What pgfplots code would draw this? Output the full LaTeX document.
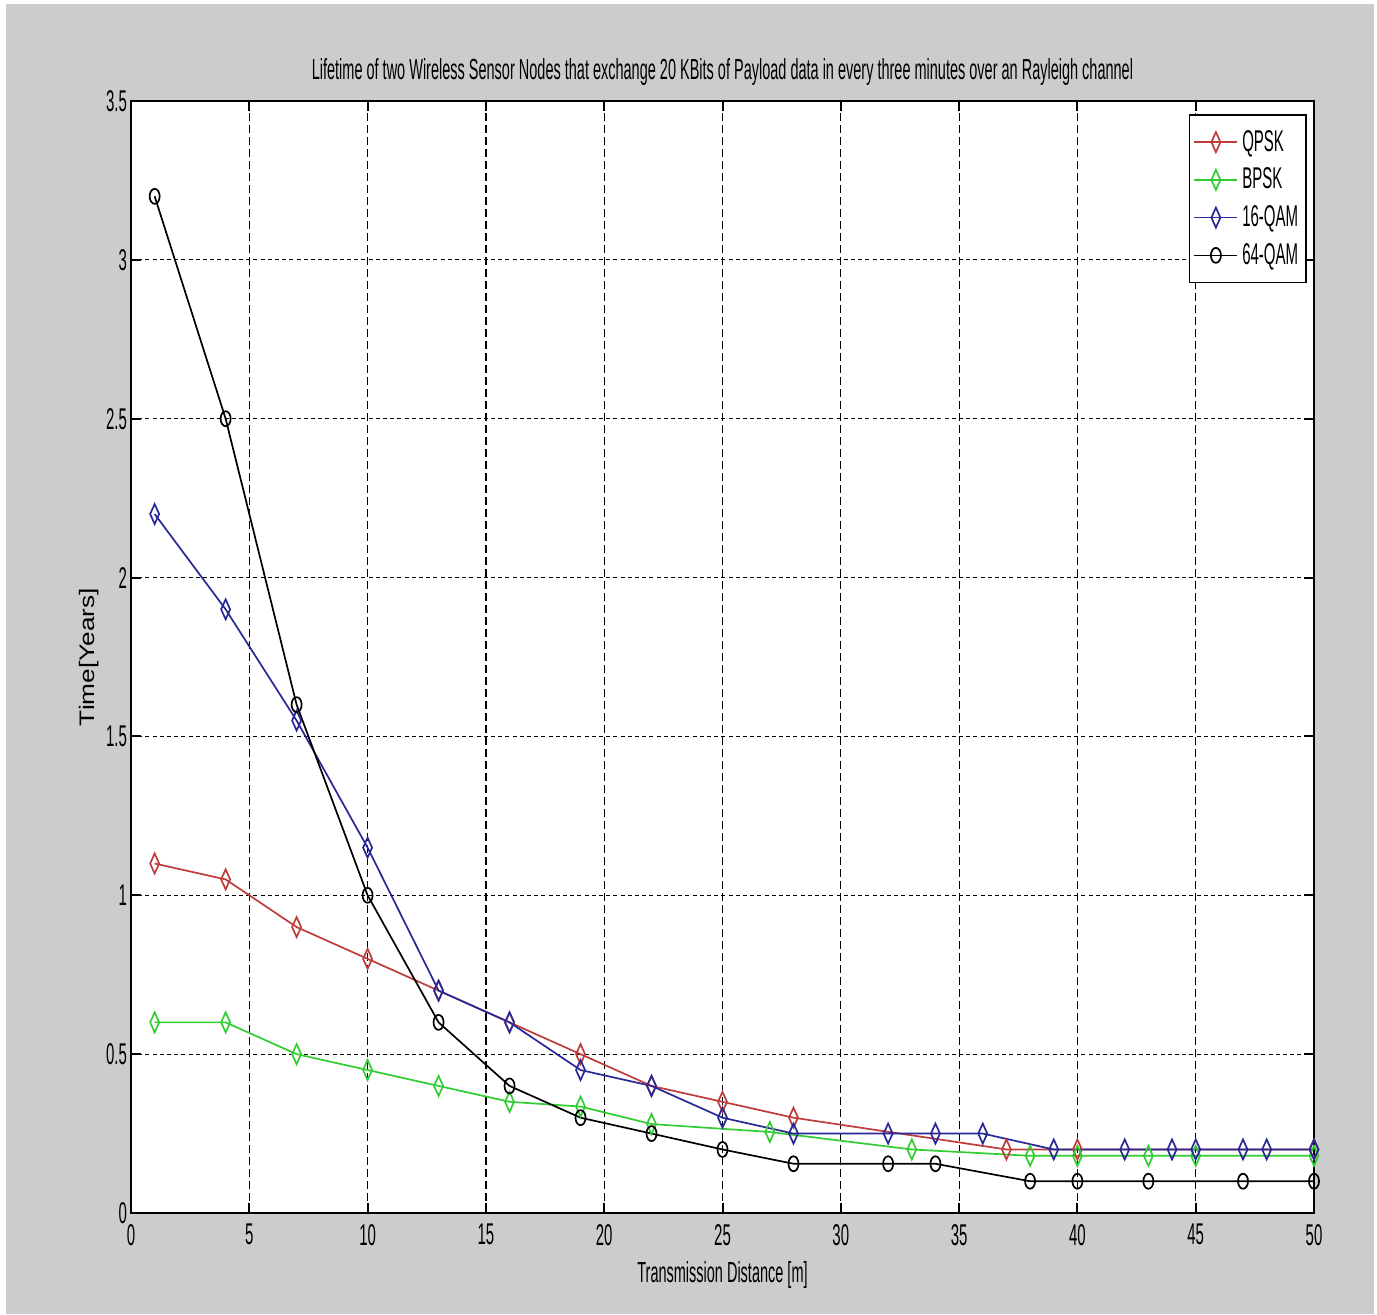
\documentclass[border=0pt]{standalone}
\usepackage{fontspec}
\setmainfont{Liberation Sans}
\newfontfamily\cfont[FakeStretch=0.5]{Liberation Sans}
\newfontfamily\yfont[FakeStretch=1.25]{Liberation Sans}
\usepackage{pgfplots}
\pgfplotsset{compat=1.18}
\definecolor{figbg}{RGB}{204,204,204}
\definecolor{qpsk}{RGB}{190,60,60}
\definecolor{bpsk}{RGB}{50,205,50}
\definecolor{qamA}{RGB}{40,40,150}
\newcommand{\cf}{\cfont\fontsize{14.5}{16}\selectfont}
\newcommand{\tf}{\cfont\fontsize{15}{17}\selectfont}
\begin{document}
\begin{tikzpicture}
\fill[white] (-65.5pt,-50.5pt) rectangle (623pt,606.5pt);
\fill[figbg] (-62.5pt,-50.5pt) rectangle (621.5pt,604.5pt);
\begin{axis}[
  at={(0pt,0pt)}, anchor=south west,
  scale only axis, width=591.5pt, height=556pt,
  xmin=0, xmax=50, ymin=0, ymax=3.5,
  xtick={0,5,...,50}, xticklabels={0,5,10,15,20,25,30,35,40,45,50},
  ytick={0,0.5,1,1.5,2,2.5,3,3.5}, yticklabels={0,0.5,1,1.5,2,2.5,3,3.5},
  tick label style={font=\tf},
  xticklabel style={yshift=-2pt},
  yticklabel style={xshift=1.5pt},
  tick align=inside, major tick length=5pt,
  every tick/.style={black, line width=1pt},
  axis line style={black, line width=1pt},
  axis background/.style={fill=white},
  grid=major,
  x grid style={black, line width=0.6pt, dash pattern=on 4pt off 2pt},
  y grid style={black, line width=0.6pt, dash pattern=on 2pt off 1.6pt},
  every axis title shift=0pt,
  title={Lifetime of two Wireless Sensor Nodes that exchange 20 KBits of Payload data in every three minutes over an Rayleigh channel},
  title style={at={(axis description cs:0.5,1.026)}, anchor=center, font=\cf},
  xlabel={Transmission Distance [m]},
  xlabel style={at={(axis description cs:0.5,-0.056)}, anchor=center, font=\cf},
  ylabel={Time[Years]},
  ylabel style={at={(axis description cs:-0.0355,0.5)}, anchor=center, font=\yfont\fontsize{10.5}{12}\selectfont},
  clip=false,
  legend image code/.code={\draw[mark repeat=2,mark phase=2,#1] plot coordinates {(0pt,0pt)(10.75pt,0pt)(21.5pt,0pt)};},
  legend style={at={(0.994,0.988)}, anchor=north east, draw=black, line width=0.8pt, fill=white, font=\tf, row sep=2.9pt, inner xsep=2pt, inner ysep=5.5pt},
  legend cell align=left,
]
\addplot[qpsk, line width=0.85pt, mark=diamond, mark size=5pt, mark options={xscale=0.6, solid}] coordinates {
(1,1.1)(4,1.05)(7,0.9)(10,0.8)(13,0.7)(16,0.6)(19,0.5)(22,0.4)(25,0.35)(28,0.3)(37,0.2)(40,0.2)(50,0.2)};
\addlegendentry{QPSK}
\addplot[bpsk, line width=0.85pt, mark=diamond, mark size=5pt, mark options={xscale=0.6, solid}] coordinates {
(1,0.6)(4,0.6)(7,0.5)(10,0.45)(13,0.4)(16,0.35)(19,0.335)(22,0.28)(27,0.255)(33,0.2)(38,0.18)(40,0.18)(43,0.18)(45,0.18)(50,0.18)};
\addlegendentry{BPSK}
\addplot[qamA, line width=0.85pt, mark=diamond, mark size=5pt, mark options={xscale=0.6, solid}] coordinates {
(1,2.2)(4,1.9)(7,1.55)(10,1.15)(13,0.7)(16,0.6)(19,0.45)(22,0.4)(25,0.3)(28,0.25)(32,0.25)(34,0.25)(36,0.25)(39,0.2)(42,0.2)(44,0.2)(45,0.2)(47,0.2)(48,0.2)(50,0.2)};
\addlegendentry{16-QAM}
\addplot[black, line width=0.85pt, mark=o, mark size=3.75pt, mark options={xscale=0.67, solid}] coordinates {
(1,3.2)(4,2.5)(7,1.6)(10,1.0)(13,0.6)(16,0.4)(19,0.3)(22,0.25)(25,0.2)(28,0.155)(32,0.155)(34,0.155)(38,0.1)(40,0.1)(43,0.1)(47,0.1)(50,0.1)};
\addlegendentry{64-QAM}
\end{axis}
\pgfresetboundingbox
\useasboundingbox (-65.5pt,-50.5pt) rectangle (623pt,606.5pt);
\end{tikzpicture}
\end{document}
